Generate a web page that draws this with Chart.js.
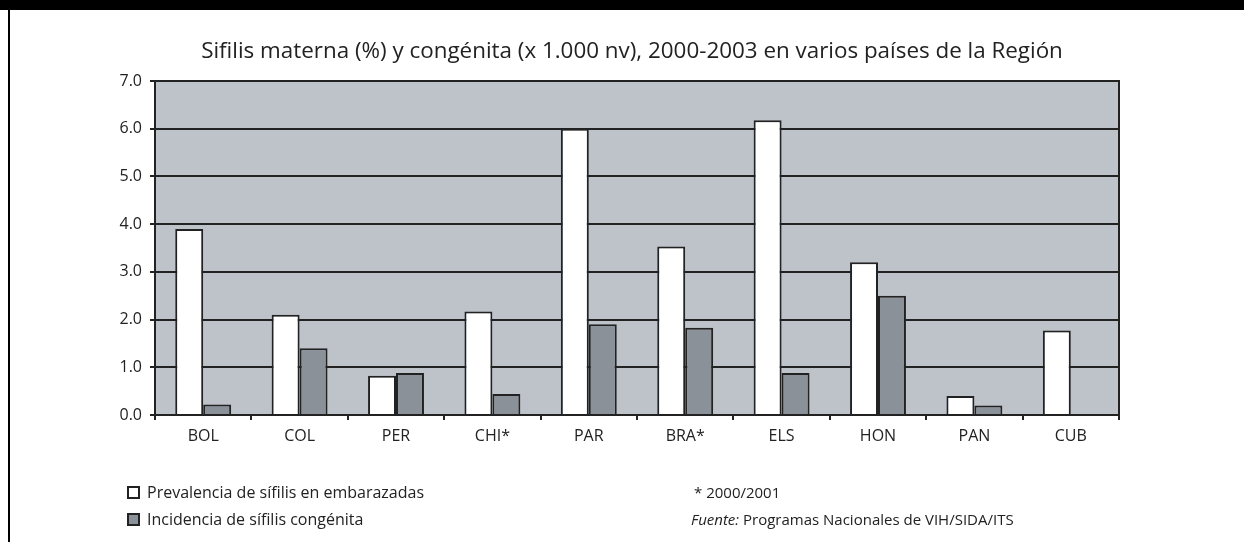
<!DOCTYPE html>
<html>
<head>
<meta charset="utf-8">
<script src="https://cdn.jsdelivr.net/npm/chart.js@4/dist/chart.umd.min.js"></script>
<style>
  body { margin: 0; background: #fff; font-family: "Open Sans", sans-serif; color: #222; }
  #wrap { position: relative; width: 1244px; height: 542px; overflow: hidden; }
  #topbar { position: absolute; left: 0; top: 0; width: 1244px; height: 10px; background: #000; }
  #leftline { position: absolute; left: 8px; top: 0; width: 2px; height: 542px; background: #000; }
  canvas { position: absolute; left: 0; top: 0; }
  #title { position: absolute; left: 332px; width: 600px; top: 37px; text-align: center; font-size: 22.4px; line-height: 26px; white-space: nowrap; display: flex; justify-content: center; }
  .note { position: absolute; line-height: 20px; white-space: nowrap; }
  .box { display: inline-block; width: 9px; height: 9px; border: 2px solid #222; vertical-align: -1px; margin-right: 7px; }
</style>
</head>
<body>
<div id="wrap">
  <canvas id="sifilis" width="1244" height="542"></canvas>
  <div id="topbar"></div>
  <div id="leftline"></div>
  <div id="title">Sifilis materna (%) y congénita (x 1.000 nv), 2000-2003 en varios países de la Región</div>
  <div class="note" style="left:127px; top:482px; font-size:16px;"><span class="box" style="background:#fff"></span>Prevalencia de sífilis en embarazadas</div>
  <div class="note" style="left:127px; top:509px; font-size:16px;"><span class="box" style="background:#8a9199"></span>Incidencia de sífilis congénita</div>
  <div class="note" style="left:694px; top:482px; font-size:15px;">* 2000/2001</div>
  <div class="note" style="left:691px; top:509px; font-size:15px;"><i>Fuente:</i> Programas Nacionales de VIH/SIDA/ITS</div>
</div>
<script>
let paises = ["BOL", "COL", "PER", "CHI*", "PAR", "BRA*", "ELS", "HON", "PAN", "CUB"];
let prevalencia = [3.9, 2.1, 0.82, 2.17, 6.0, 3.53, 6.18, 3.2, 0.4, 1.77];
let incidencia = [0.22, 1.4, 0.88, 0.44, 1.9, 1.83, 0.88, 2.5, 0.2, 0];
let yTicks = [0, 1, 2, 3, 4, 5, 6, 7];

// gray plot background + right edge line
const plotFrame = {
    id: "plotFrame",
    beforeDraw(chart) {
        const a = chart.chartArea, ctx = chart.ctx;
        ctx.save();
        ctx.fillStyle = "#bec3ca";
        ctx.fillRect(a.left, a.top, a.right - a.left, a.bottom - a.top);
        ctx.restore();
    },
    afterDraw(chart) {
        const a = chart.chartArea, ctx = chart.ctx;
        ctx.save();
        ctx.strokeStyle = "#222";
        ctx.lineWidth = 2;
        ctx.beginPath();
        ctx.moveTo(a.right, a.top - 1);
        ctx.lineTo(a.right, a.bottom + 5);
        ctx.stroke();
        ctx.restore();
    },
};

window.onload = function () {
    var ctx = document.getElementById("sifilis").getContext("2d");
    window.chartSifilis = new Chart(ctx, {
        type: "bar",
        data: {
            labels: paises,
            datasets: [
                {
                    label: "Prevalencia de sífilis en embarazadas",
                    data: prevalencia,
                    backgroundColor: "#ffffff",
                    borderColor: "#222",
                    borderWidth: 2,
                },
                {
                    label: "Incidencia de sífilis congénita",
                    data: incidencia,
                    backgroundColor: "#8a9199",
                    borderColor: "#222",
                    borderWidth: 2,
                },
            ],
        },
        options: {
            responsive: false,
            animation: false,
            layout: { padding: { left: 0, right: 125, top: 81, bottom: 0 } },
            datasets: { bar: { categoryPercentage: 0.58, barPercentage: 1.0 } },
            plugins: {
                legend: { display: false },
                tooltip: { enabled: false },
                title: { display: false },
            },
            scales: {
                x: {
                    offset: true,
                    afterFit: (s) => { s.height = 127; },
                    grid: { offset: true, drawOnChartArea: false, drawTicks: true, tickLength: 5, color: "#222", lineWidth: 2 },
                    border: { color: "#222", width: 2 },
                    ticks: { color: "#222", padding: 7, font: { family: "Open Sans", size: 16 } },
                },
                y: {
                    min: 0,
                    max: 7,
                    afterFit: (s) => { s.width = 155; },
                    afterBuildTicks: (s) => { s.ticks = yTicks.map((v) => ({ value: v })); },
                    grid: { color: "#222", lineWidth: 2, tickLength: 5 },
                    border: { color: "#222", width: 2 },
                    ticks: {
                        color: "#222",
                        padding: 8,
                        font: { family: "Open Sans", size: 16 },
                        callback: (v) => Number(v).toFixed(1),
                    },
                },
            },
        },
        plugins: [plotFrame],
    });
};
</script>
</body>
</html>
